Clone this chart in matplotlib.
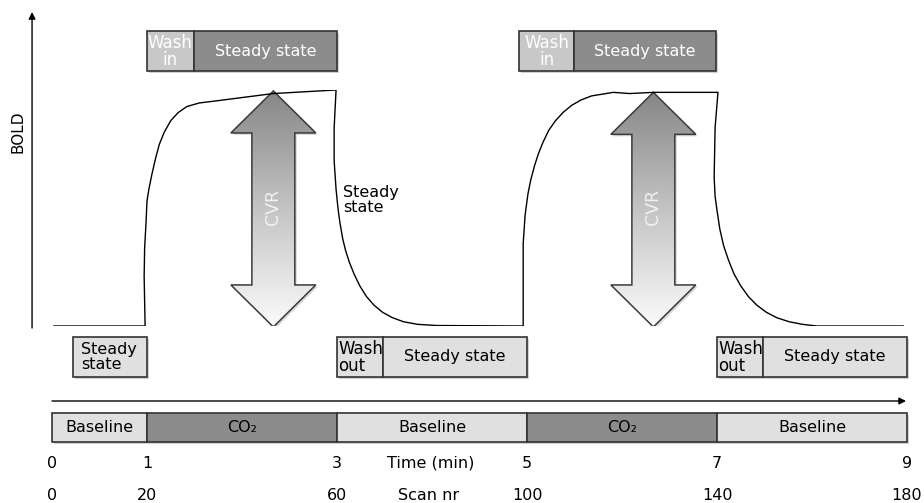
import numpy as np
import matplotlib
matplotlib.use("Agg")
import matplotlib.pyplot as plt
from matplotlib.patches import Rectangle, Polygon
from matplotlib.colors import LinearSegmentedColormap

# ---------------- data ----------------
phase_edges = [0, 1, 3, 5, 7, 9]
phase_labels = ["Baseline", "CO₂", "Baseline", "CO₂", "Baseline"]
time_ticks = [0, 1, 3, 5, 7, 9]
scan_ticks = [0, 20, 60, 100, 140, 180]

# BOLD response (time in min, normalised BOLD level)
bold_t = [0.02, 0.98, 0.97, 0.975, 0.99, 1.00, 1.02, 1.05, 1.09, 1.13, 1.18, 1.25, 1.33, 1.42,
          1.55, 1.75, 2.00, 2.33, 2.99,
          2.97, 2.97, 2.99, 3.01, 3.03, 3.06, 3.09, 3.13, 3.18, 3.24, 3.31, 3.39, 3.48, 3.58,
          3.70, 3.85, 4.05, 4.96,
          4.96, 4.96, 4.98, 5.01, 5.04, 5.08, 5.12, 5.17, 5.23, 5.30, 5.38, 5.47, 5.57, 5.68,
          5.91, 6.08, 6.33, 7.01,
          6.98, 6.97, 6.98, 7.00, 7.03, 7.07, 7.12, 7.18, 7.25, 7.33, 7.42, 7.52, 7.63, 7.76,
          7.90, 8.05, 8.96]
bold_v = [0.0, 0.0, 0.21, 0.33, 0.44, 0.53, 0.58, 0.64, 0.71, 0.77, 0.82, 0.87, 0.905, 0.93,
          0.945, 0.955, 0.968, 0.985, 1.0,
          0.84, 0.70, 0.58, 0.50, 0.44, 0.37, 0.32, 0.27, 0.22, 0.17, 0.125, 0.088, 0.058, 0.036,
          0.018, 0.007, 0.002, 0.0,
          0.14, 0.35, 0.47, 0.56, 0.62, 0.68, 0.73, 0.78, 0.83, 0.87, 0.905, 0.935, 0.958, 0.975,
          0.99, 0.985, 0.99, 0.99,
          0.84, 0.63, 0.55, 0.49, 0.41, 0.34, 0.28, 0.22, 0.17, 0.125, 0.088, 0.058, 0.035, 0.018,
          0.007, 0.0, 0.0]

cvr_t = [2.33, 6.33]
cvr_top = [0.996, 0.99]
cvr_bottom = [-0.004, -0.004]

top_box_start = [1.0, 4.92]
top_wash_end = [1.49, 5.49]
top_box_end = [3.0, 6.99]

ss_box = [0.22, 1.0]
out_box_start = [3.0, 7.0]
out_wash_end = [3.48, 7.48]
out_box_end = [5.0, 9.0]

# ---------------- layout ----------------
W, H = 924, 503
fig = plt.figure(figsize=(W / 100, H / 100), dpi=100)
XL = (-52 / 95, (W - 52) / 95)

ax = fig.add_axes([0, 0, 1, 1])
ax.set_xlim(*XL)
ax.set_ylim(H, 0)
ax.axis("off")

bax = fig.add_axes([0, (H - 326) / H, 1, 236 / H])
bax.set_xlim(*XL)
bax.set_ylim(0, 1)
bax.axis("off")
bax.patch.set_alpha(0)

FS = 11.5
EC = "#333333"
LIGHT = "#e0e0e0"
DARK = "#8c8c8c"
WASHIN = "#c8c8c8"
px = 1 / 95.0


def box(x0, x1, y0, y1, fc, z=3):
    ax.add_patch(Rectangle((x0 + 2 * px, y0 + 2), x1 - x0, y1 - y0, fc="black",
                           alpha=0.18, lw=0, zorder=z - 1))
    ax.add_patch(Rectangle((x0, y0), x1 - x0, y1 - y0, fc=fc, ec=EC, lw=1.2, zorder=z))


# axes arrows
ax.annotate("", xy=(-0.21, 12), xytext=(-0.21, 328),
            arrowprops=dict(arrowstyle="-|>", color="black", lw=1.0,
                            mutation_scale=10, shrinkA=0, shrinkB=0))
ax.annotate("", xy=(8.99, 401), xytext=(0, 401),
            arrowprops=dict(arrowstyle="-|>", color="black", lw=1.0,
                            mutation_scale=10, shrinkA=0, shrinkB=0))
ax.text(-0.358, 132, "BOLD", rotation=90, ha="center", va="center", fontsize=11)

# BOLD curve
bax.plot(bold_t, bold_v, color="black", lw=1.0, zorder=5, solid_joinstyle="round")

# CVR arrows
cmap = LinearSegmentedColormap.from_list("g", ["#fbfbfb", "#c4c4c4", "#868686"])
grad = np.linspace(0, 1, 256).reshape(-1, 1)
hw, sw = 0.447, 0.226
for xc, top, bot in zip(cvr_t, cvr_top, cvr_bottom):
    hl = 0.178
    pts = [(xc, top), (xc + hw, top - hl), (xc + sw, top - hl), (xc + sw, bot + hl),
           (xc + hw, bot + hl), (xc, bot), (xc - hw, bot + hl), (xc - sw, bot + hl),
           (xc - sw, top - hl), (xc - hw, top - hl)]
    sh = [(p[0] + 2 * px, p[1] - 2 / 236) for p in pts]
    bax.add_patch(Polygon(sh, closed=True, fc="black", alpha=0.15, lw=0, zorder=2))
    poly = Polygon(pts, closed=True, fc="none", ec="#3a3a3a", lw=1.1, zorder=4)
    bax.add_patch(poly)
    im = bax.imshow(grad, extent=[xc - hw, xc + hw, bot, top], origin="lower",
                    cmap=cmap, aspect="auto", zorder=3, interpolation="bilinear")
    im.set_clip_path(poly)
    bax.text(xc, 0.504, "CVR", rotation=90, ha="center", va="center",
             fontsize=12.5, color="#f2f2f2", zorder=6)
bax.set_xlim(*XL)
bax.set_ylim(0, 1)

# top boxes (wash in / steady state)
for s, w, e in zip(top_box_start, top_wash_end, top_box_end):
    box(s, w, 31, 71, WASHIN)
    box(w, e, 31, 71, DARK)
    ax.text((s + w) / 2, 51.5, "Wash\nin", ha="center", va="center", fontsize=12,
            color="white", linespacing=0.95, zorder=5)
    ax.text((w + e) / 2, 51, "Steady state", ha="center", va="center", fontsize=FS,
            color="white", zorder=5)

# bottom boxes
box(ss_box[0], ss_box[1], 337, 377, LIGHT)
ax.text(ss_box[0] + 8 * px, 357, "Steady\nstate", ha="left", va="center", fontsize=FS,
        linespacing=0.95, zorder=5)
for s, w, e in zip(out_box_start, out_wash_end, out_box_end):
    box(s, w, 337, 377, LIGHT)
    box(w, e, 337, 377, LIGHT)
    ax.text(s + 1.5 * px, 357.5, "Wash\nout", ha="left", va="center", fontsize=12,
            linespacing=0.92, zorder=5)
    ax.text((w + e) / 2, 357, "Steady state", ha="center", va="center", fontsize=FS, zorder=5)

ax.text(3.06, 200, "Steady\nstate", ha="left", va="center", fontsize=FS, linespacing=0.95)

# phase bar
for a, b, lab in zip(phase_edges[:-1], phase_edges[1:], phase_labels):
    fc = DARK if lab.startswith("CO") else LIGHT
    box(a, b, 413, 442, fc)
    ax.text((a + b) / 2, 428, lab, ha="center", va="center", fontsize=FS, zorder=5)

# tick rows
for t, s in zip(time_ticks, scan_ticks):
    ax.text(t, 463, str(t), ha="center", va="center", fontsize=FS)
    ax.text(t, 495, str(s), ha="center", va="center", fontsize=FS)
ax.text(3.99, 463, "Time (min)", ha="center", va="center", fontsize=FS)
ax.text(3.96, 495, "Scan nr", ha="center", va="center", fontsize=FS)

fig.savefig("out.png", dpi=100, facecolor="white")
